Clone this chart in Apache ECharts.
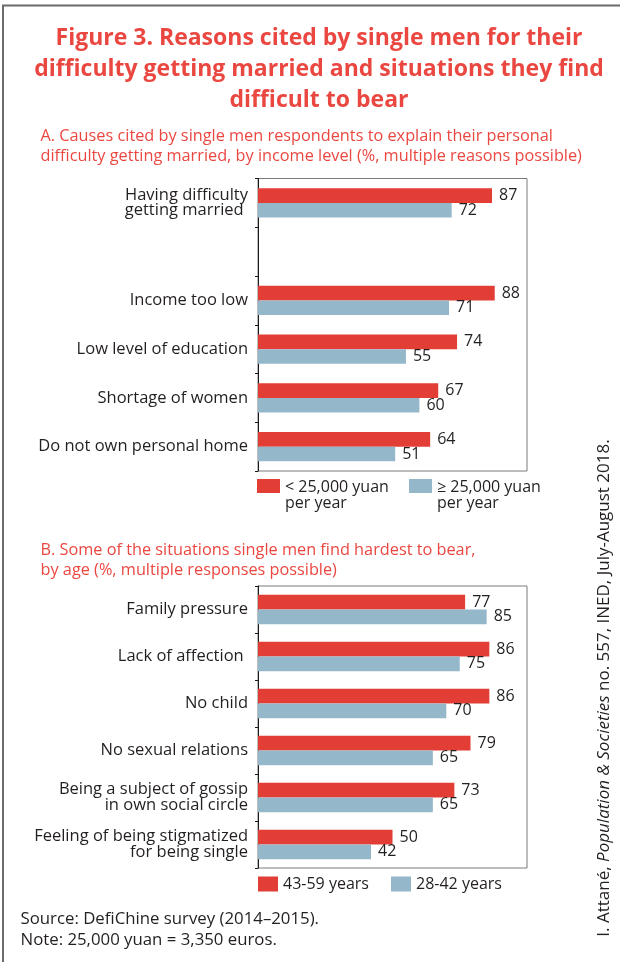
<!DOCTYPE html>
<html><head><meta charset="utf-8">
<script src="https://cdn.jsdelivr.net/npm/echarts@6/dist/echarts.min.js"></script>
<style>html,body{margin:0;padding:0;background:#fff}#c{width:623px;height:962px}</style>
</head><body><div id="c"></div>
<script>
const titleText = 'Figure 3. Reasons cited by single men for their\ndifficulty getting married and situations they find\ndifficult to bear';
const subtitleA = 'A. Causes cited by single men respondents to explain their personal\ndifficulty getting married, by income level (%, multiple reasons possible)';
const subtitleB = 'B. Some of the situations single men find hardest to bear,\nby age (%, multiple responses possible)';
const categoriesA = ['Having difficulty\ngetting married ', '', 'Income too low', 'Low level of education', 'Shortage of women', 'Do not own personal home'];
const lowIncome = [87, null, 88, 74, 67, 64];
const highIncome = [72, null, 71, 55, 60, 51];
const seriesNamesA = ['< 25,000 yuan\nper year', '≥ 25,000 yuan\nper year'];
const categoriesB = ['Family pressure', 'Lack of affection ', 'No child', 'No sexual relations', 'Being a subject of gossip\nin own social circle', 'Feeling of being stigmatized\nfor being single'];
const age43to59 = [77, 86, 86, 79, 73, 50];
const age28to42 = [85, 75, 70, 65, 65, 42];
const seriesNamesB = ['43-59 years', '28-42 years'];
const sourceText = 'Source: DefiChine survey (2014–2015).\nNote: 25,000 yuan = 3,350 euros.';
const creditText = 'I. Attané, {i|Population & Societies} no. 557, INED, July-August 2018.';

const RED = '#E23E36', BLUE = '#94B7CA', TXT = '#231F20', TITLE_RED = '#EB4741';
const FONT = 'Open Sans';

const chart = echarts.init(document.getElementById('c'), null, {renderer: 'canvas'});

function yAxisCfg(idx, cats) {
  return {
    type: 'category', gridIndex: idx, data: cats, inverse: true,
    axisLine: {show: true, lineStyle: {color: '#1a1a1a', width: 1}},
    axisTick: {show: true, length: 3, lineStyle: {color: '#1a1a1a'}},
    axisLabel: {fontSize: 16.5, color: TXT, fontFamily: FONT, margin: 10, lineHeight: 15.5, align: 'right'},
    splitLine: {show: false}
  };
}
function xAxisCfg(idx) {
  return {type: 'value', gridIndex: idx, min: 0, max: 100,
    axisLine: {show: false}, axisTick: {show: false}, axisLabel: {show: false}, splitLine: {show: false}};
}
function barSeries(name, data, idx, color, bw) {
  return {
    type: 'bar', name, data, xAxisIndex: idx, yAxisIndex: idx, barWidth: bw, barGap: '0%',
    itemStyle: {color},
    label: {show: true, position: 'right', distance: 7, fontSize: 16, color: TXT, fontFamily: FONT},
    animation: false
  };
}
const twoLineIcon = 'path://M0,0H23V14H0Z M0,33L0.01,33';
function legendCfg(name, left, top, icon, w, h, lh) {
  return {
    data: [name], left, top, icon, itemWidth: w, itemHeight: h, selectedMode: false, padding: 0,
    textStyle: {fontSize: 16, color: TXT, fontFamily: FONT, lineHeight: lh}
  };
}

const option = {
  backgroundColor: '#fff',
  animation: false,
  grid: [
    {left: 258, top: 178.5, width: 269, height: 292.5, show: true, borderColor: '#7a7a7a', borderWidth: 1},
    {left: 258, top: 586, width: 269, height: 282, show: true, borderColor: '#7a7a7a', borderWidth: 1}
  ],
  xAxis: [xAxisCfg(0), xAxisCfg(1)],
  yAxis: [yAxisCfg(0, categoriesA), yAxisCfg(1, categoriesB)],
  legend: [
    legendCfg(seriesNamesA[0], 257, 479, twoLineIcon, 23, 33, 16.5),
    legendCfg(seriesNamesA[1], 409, 479, twoLineIcon, 23, 33, 16.5),
    legendCfg(seriesNamesB[0], 258, 876, 'rect', 20, 15, 16),
    legendCfg(seriesNamesB[1], 391, 876, 'rect', 20, 15, 16)
  ],
  series: [
    barSeries(seriesNamesA[0], lowIncome, 0, RED, 14.7),
    barSeries(seriesNamesA[1], highIncome, 0, BLUE, 14.7),
    barSeries(seriesNamesB[0], age43to59, 1, RED, 14.8),
    barSeries(seriesNamesB[1], age28to42, 1, BLUE, 14.8)
  ],
  graphic: [
    {type: 'polyline', shape: {points: [[3, 962], [3, 5.5], [620, 5.5]]}, style: {stroke: '#6b6b6b', lineWidth: 2, fill: null}, silent: true},
    {type: 'text', x: 319, y: 23, style: {text: titleText, fill: TITLE_RED, fontSize: 23, fontWeight: 'bold', fontFamily: FONT, lineHeight: 31, align: 'center', verticalAlign: 'top'}},
    {type: 'text', x: 40.5, y: 126, style: {text: subtitleA, fill: TITLE_RED, fontSize: 16.3, fontFamily: FONT, lineHeight: 20, align: 'left', verticalAlign: 'top'}},
    {type: 'text', x: 40.5, y: 540, style: {text: subtitleB, fill: TITLE_RED, fontSize: 16.3, fontFamily: FONT, lineHeight: 20, align: 'left', verticalAlign: 'top'}},
    {type: 'text', x: 20.5, y: 909, style: {text: sourceText, fill: TXT, fontSize: 16.8, fontFamily: FONT, lineHeight: 20.5, align: 'left', verticalAlign: 'top'}},
    {type: 'text', x: 604, y: 688, rotation: Math.PI / 2, style: {text: creditText, fill: TXT, fontSize: 17, fontFamily: FONT, align: 'center', verticalAlign: 'middle', rich: {i: {fontStyle: 'italic', fontSize: 17, fontFamily: FONT, fill: TXT}}}}
  ]
};
chart.setOption(option);
</script>
</body></html>
